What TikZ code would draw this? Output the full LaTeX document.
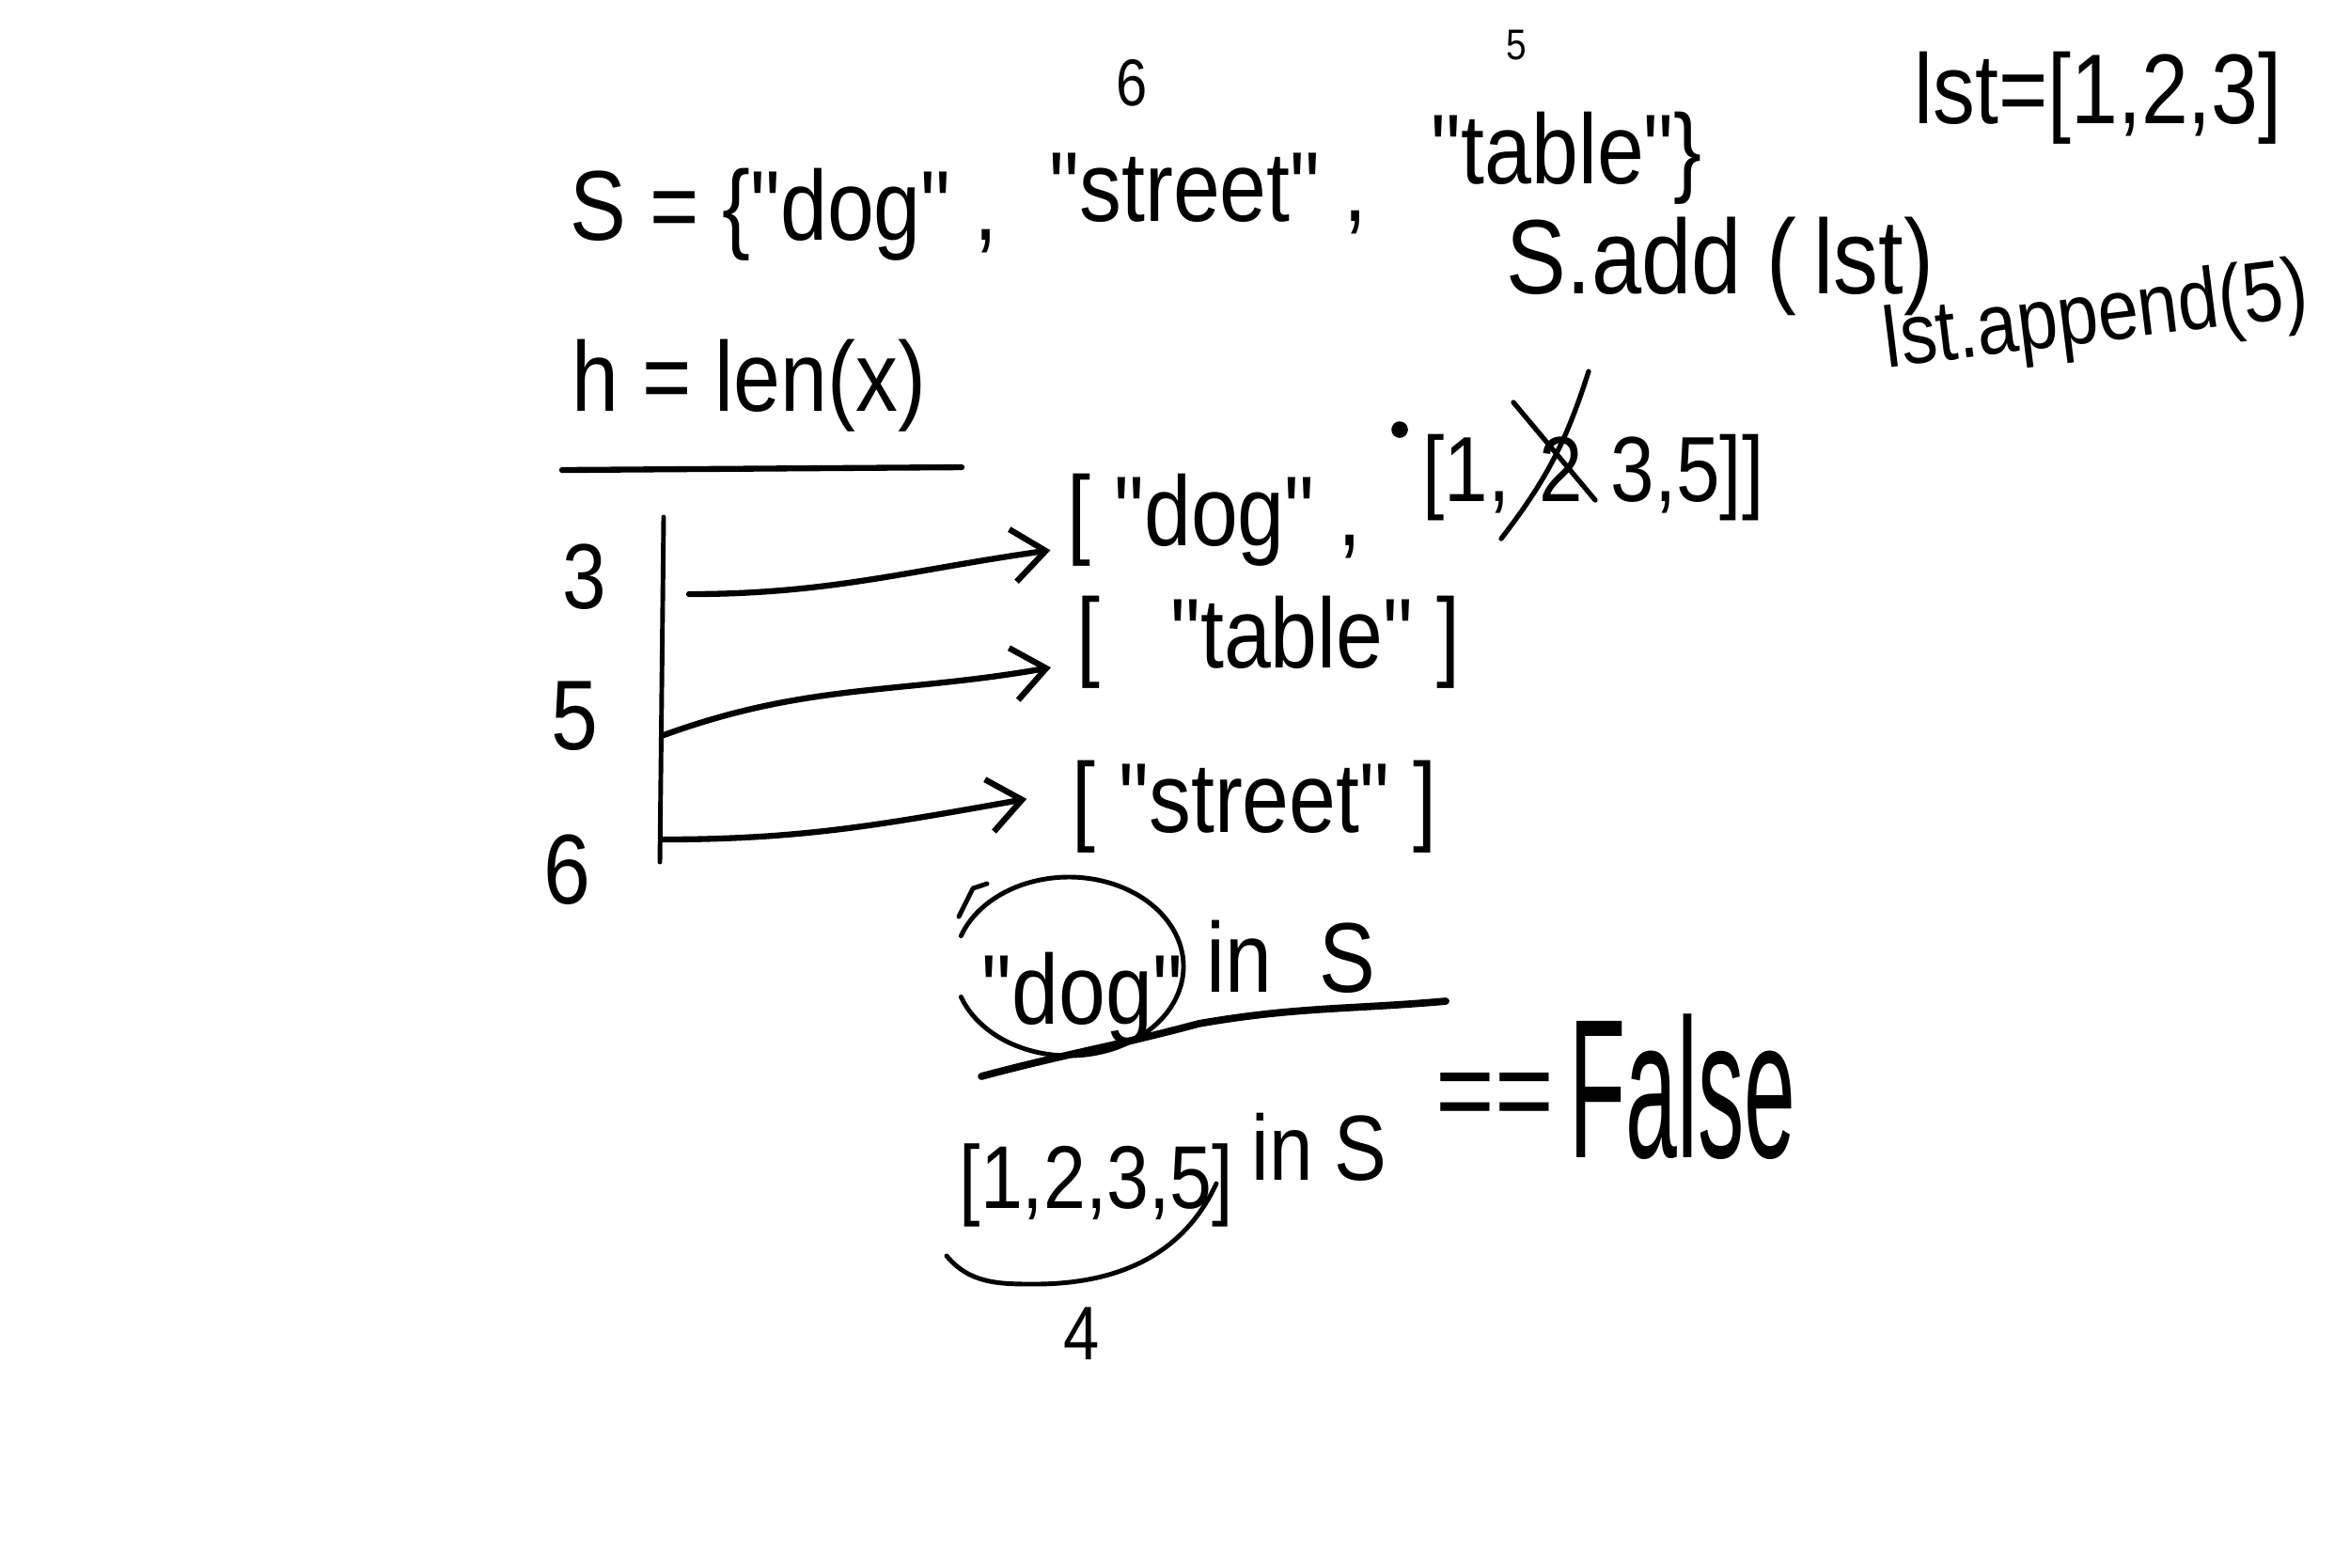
\documentclass[tikz,border=0pt]{standalone}
\usepackage{fontspec}
\newfontfamily\handschrift{Liberation Sans}[FakeStretch=0.85]
\usepackage{graphicx}
\usetikzlibrary{arrows.meta}
\newcommand{\schmal}[2][0.55]{\scalebox{#1}[1]{#2}}

\begin{document}
\begin{tikzpicture}[x=10mm, y=10mm,
        >={Straight Barb[length=10pt,width=16pt]},   %Voreinstellung für Pfeilspitzen
        strich/.style={line width=1.8pt, line cap=round, line join=round},
        hand/.style={inner sep=0pt, font=\handschrift\fontsize{#1}{#1}\selectfont},
        hand/.default=30]
        %Bildbereich
        \useasboundingbox[fill=white] (0,0) rectangle (25,-16.67);
        % Menge oben
        \node[hand, anchor=base west] (mengeA) at (6.06,-2.55) {S = \{"dog" ,};
        \node[hand, anchor=base west] (mengeB) at (11.16,-2.35) {"street" ,};
        \node[hand, anchor=base west] (mengeC) at (15.22,-1.95) {"table"\}};
        \node[hand=20] (hashA) at (12.04,-0.88) {6};
        \node[hand=13] (hashB) at (16.13,-0.48) {5};
        % Liste rechts oben
        \node[hand=30] (lst) at (22.32,-1.04) {lst=[1,2,3]};
        \node[hand=32] (add) at (18.3,-2.83) {S.add (\,lst)};
        \node[hand=26, rotate=7] (append) at (22.3,-3.4) {lst.append(5)};
        % Hashfunktion
        \node[hand] (hfunk) at (7.97,-4.1) {h = len(x)};
        \draw[strich] (5.98,-5.0) -- (10.23,-4.97);
        % Tabelle
        \coordinate (oben) at (7.06,-5.5);
        \coordinate (unten) at (7.02,-9.17);
        \draw[strich, line width=1.4pt] (oben) -- (unten);
        \node[hand=28] (drei) at (6.22,-6.14) {3};
        \node[hand] (fuenf) at (6.11,-7.62) {5};
        \node[hand] (sechs) at (6.03,-9.25) {6};
        % Listen
        \node[hand, anchor=base west] (listeA) at (11.35,-5.8) {[\ "dog" ,};
        \node[hand=28, anchor=base west] (listeB) at (15.13,-5.33) {[1,};
        \node[hand=28, anchor=base west] (zwei) at (16.37,-5.33) {2};
        \node[hand=28, anchor=base west] (listeC) at (17.13,-5.33) {3,5]]};
        \node[hand, anchor=base west] (listeD) at (11.45,-7.1) {[\ \ \ "table" ]};
        \node[hand, anchor=base west] (listeE) at (11.4,-8.85) {[\ "street" ]};
        % Durchgestrichen
        \draw[strich, line width=1.5pt] (16.9,-3.95) to[bend left=10] (15.97,-5.73);
        \draw[strich, line width=1.5pt] (16.1,-4.28) -- (16.97,-5.32);
        \fill (14.89,-4.57) circle (2.5pt);
        % Pfeile
        \coordinate (hA) at (7.33,-6.32);
        \coordinate (hB) at (7.06,-7.82);
        \coordinate (hC) at (7.04,-8.93);
        \draw[strich, ->] (hA) to[out=0,in=188] ([xshift=-5pt,yshift=-1.5pt]listeA.base west);
        \draw[strich, ->] (hB) to[out=20,in=190] ([xshift=-7.7pt]listeD.base west);
        \draw[strich, ->] (hC) to[out=0,in=190] ([xshift=-13.6pt,yshift=10pt]listeE.base west);
        % Abfrage
        \node[hand, anchor=base west] (frageA) at (10.44,-10.89) {"dog"};
        \node[hand, anchor=base west] (frageB) at (12.83,-10.55) {in\ \ S};
        \draw[strich, line width=1.4pt] (11.37,-10.28) ++(160:1.22 and 0.95) arc[start angle=160, end angle=-160, x radius=1.22, y radius=0.95];
        \draw[strich, line width=1.4pt] (10.2,-9.75) -- (10.35,-9.45) -- (10.5,-9.4);
        \draw[strich, line width=2.2pt] (10.44,-11.45) to[out=15,in=195] (12.75,-10.89) to[out=10,in=185] (15.38,-10.65);
        \node[hand=27, anchor=base west] (liste) at (10.2,-12.85) {[1,2,3,5]};
        \node[hand=28, anchor=base west] (frageC) at (13.31,-12.55) {in S};
        \node[hand=36] (gleich) at (15.9,-11.72) {==};
        \node[hand=60] (falsch) at (17.9,-11.56) {\schmal{False}};
        \draw[strich, line width=1.4pt] (10.07,-13.36) to[out=-50,in=180] (11.0,-13.66) to[out=0,in=-115] (12.94,-12.59);
        \node[hand=23] (vier) at (11.51,-14.19) {4};
\end{tikzpicture}
\end{document}
